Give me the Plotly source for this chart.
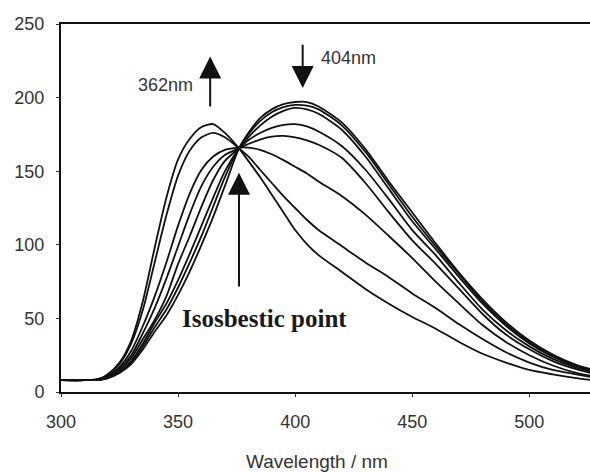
import plotly.graph_objects as go

wavelength = [300, 310, 315, 318, 320, 325, 330, 335, 340, 345, 350, 355, 360, 365, 370, 376,
              380, 385, 390, 395, 400, 405, 410, 420, 430, 440, 450, 460, 470, 480, 490, 500,
              510, 520, 530]

c1 = [8, 8, 8.5, 10, 12, 20, 35, 62, 98, 132, 158, 172, 180, 182, 176, 165.5,
      157, 146, 134, 122, 110, 100.5, 93, 81.5, 70, 60, 51, 43, 34, 26, 20, 15, 12, 9.5, 7.5]
c2 = [8, 8, 8.5, 10, 12, 19, 33, 56, 88, 120, 147, 164, 173, 176, 173, 165.5,
      160, 151, 142, 133, 125, 117, 110, 99, 88, 78, 67, 57, 46, 36, 27, 20, 15, 12, 9]
c3 = [8, 8, 8.3, 9.5, 11, 17, 28, 45, 65, 88, 113, 135, 151, 160, 164.5, 166,
      166, 164.5, 161.5, 157.5, 153, 148.5, 143, 133, 120.5, 106, 91, 75, 60, 45.5, 34, 25, 18, 13, 10]
c4 = [8, 8, 8.2, 9, 10.5, 16, 25, 40, 57, 77, 99, 121, 140, 153, 161, 165.5,
      168.5, 171.5, 173.5, 174, 173, 171, 168, 159, 142, 122, 103, 87, 70, 53, 39, 29, 21, 15.5, 11.5]
c5 = [8, 8, 8.2, 9, 10, 15, 23, 36, 49, 65, 87, 106, 126, 144, 157, 165.5,
      171, 176, 179.5, 181.5, 182, 180.5, 177, 167, 151, 131, 110, 93, 74, 56, 42, 31, 22.5, 16.5, 12.5]
c6 = [8, 8, 8.1, 8.8, 9.8, 14, 21, 33, 47, 60, 76, 94, 113, 132, 150, 165.5,
      173, 181, 187, 191, 193, 192, 189, 178, 160, 138, 116, 97, 78, 60, 45, 33, 24, 17.5, 13]
c7 = [8, 8, 8.1, 8.7, 9.6, 13.5, 20, 31, 44, 56, 71, 88, 106, 126, 146, 165.5,
      175, 184, 190, 193.5, 195, 194.5, 192, 181, 163, 141, 119, 99, 80, 61.5, 46, 34, 24.5, 18, 13.5]
c8 = [8, 8, 8.1, 8.6, 9.4, 13, 19, 29, 41, 52, 66, 82, 100, 119, 140, 165.5,
      176, 186, 192, 195.5, 197, 197, 194, 183, 165, 143, 122, 101, 81, 63, 47.5, 35, 25.5, 18.5, 14]

series = [c1, c2, c3, c4, c5, c6, c7, c8]

x_ticks = [300, 350, 400, 450, 500]
y_ticks = [0, 50, 100, 150, 200, 250]

fig = go.Figure()
for s in series:
    fig.add_trace(go.Scatter(x=wavelength, y=s, mode="lines",
                             line=dict(color="#111111", width=1.8, shape="spline", smoothing=0.7),
                             showlegend=False, hoverinfo="skip"))

sans = "Liberation Sans, Arial, sans-serif"
tick_font = dict(family=sans, size=18, color="#333333")

fig.update_layout(
    width=590, height=472,
    margin=dict(l=61, r=0, t=24, b=80),
    paper_bgcolor="white", plot_bgcolor="white",
    xaxis=dict(range=[300, 525.9], tickvals=x_ticks, showgrid=False, zeroline=False,
               showline=True, linecolor="#111111", linewidth=2, mirror=True,
               ticks="outside", ticklen=3, tickcolor="#333333", tickwidth=1,
               tickfont=tick_font, ticklabelstandoff=9),
    yaxis=dict(range=[0, 250], tickvals=y_ticks, showgrid=False, zeroline=False,
               showline=True, linecolor="#111111", linewidth=2, mirror=False,
               ticks="outside", ticklen=3, tickcolor="#333333", tickwidth=1,
               tickfont=tick_font, ticklabelstandoff=8),
)

arrow_color = "#111111"
# 362 nm arrow (up)
fig.add_annotation(x=363.7, y=228, ax=363.7, ay=193, xref="x", yref="y", axref="x", ayref="y",
                   showarrow=True, arrowhead=2, arrowsize=2.2, arrowwidth=2, arrowcolor=arrow_color, text="")
fig.add_annotation(x=344.8, y=208.6, xref="x", yref="y", text="362nm", showarrow=False,
                   font=dict(family=sans, size=18, color="#333333"))
# 404 nm arrow (down)
fig.add_annotation(x=403.2, y=206.5, ax=403.2, ay=237, xref="x", yref="y", axref="x", ayref="y",
                   showarrow=True, arrowhead=2, arrowsize=2.2, arrowwidth=2, arrowcolor=arrow_color, text="")
fig.add_annotation(x=410.0, y=227, xref="x", yref="y", text="404nm", showarrow=False,
                   xanchor="left", font=dict(family=sans, size=18, color="#333333"))
# Isosbestic point arrow
fig.add_annotation(x=376, y=149, ax=376, ay=70.7, xref="x", yref="y", axref="x", ayref="y",
                   showarrow=True, arrowhead=2, arrowsize=2.2, arrowwidth=2, arrowcolor=arrow_color, text="")
fig.add_annotation(x=387, y=50, xref="x", yref="y", text="<b>Isosbestic point</b>", showarrow=False,
                   font=dict(family="Liberation Serif, Times New Roman, serif", size=25, color="#1a1a1a"))
# x-axis title
fig.add_annotation(x=0.484, y=-0.19, xref="paper", yref="paper", text="Wavelength / nm",
                   showarrow=False, yanchor="middle",
                   font=dict(family=sans, size=19, color="#333333"))

fig.write_html("out.html")
